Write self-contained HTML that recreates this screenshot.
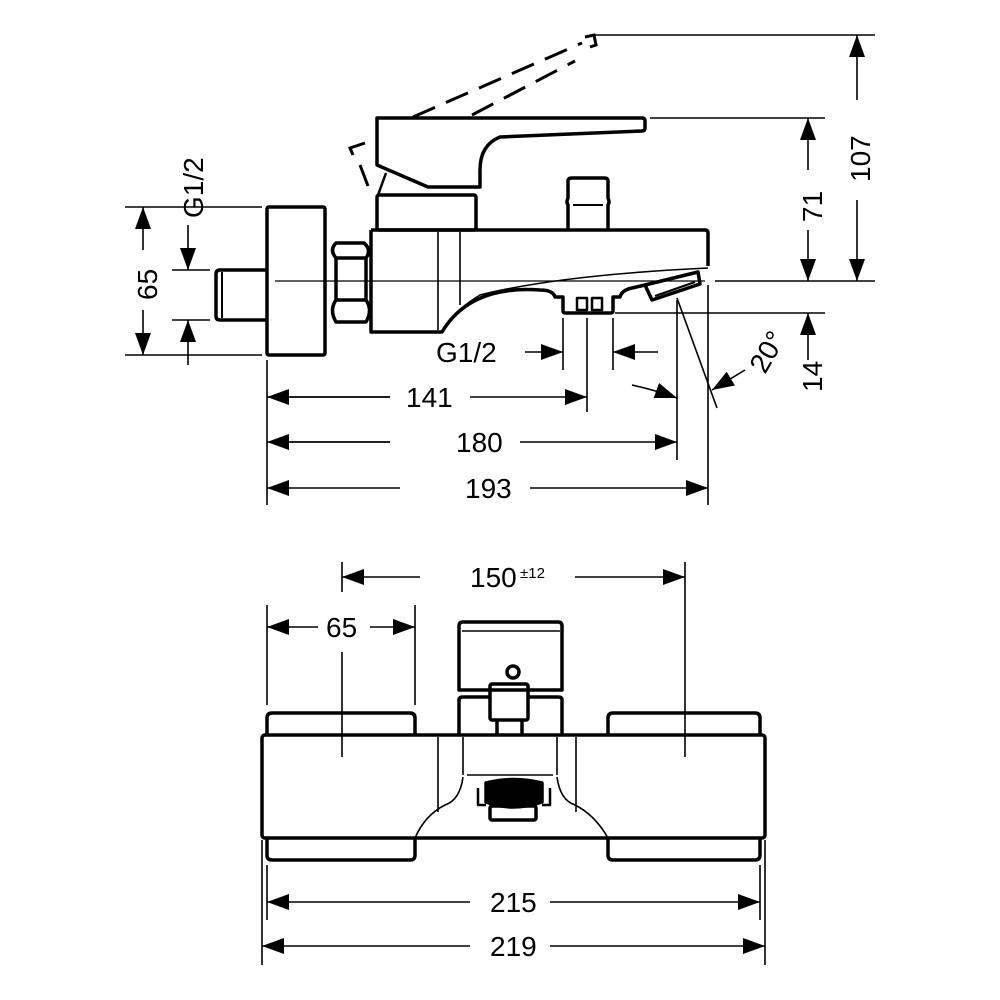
<!DOCTYPE html>
<html><head><meta charset="utf-8"><style>
html,body{margin:0;padding:0;background:#fff}
svg{display:block}
text{font-family:"Liberation Sans",sans-serif;font-size:28px;fill:#000}
</style></head><body>
<svg width="1000" height="1000" viewBox="0 0 1000 1000" xmlns="http://www.w3.org/2000/svg">
<defs>
<marker id="a" markerUnits="userSpaceOnUse" markerWidth="24" markerHeight="16" refX="22" refY="8" orient="auto">
<path d="M0,0 L22,8 L0,16 Z" fill="#000"/>
</marker>
</defs>
<g fill="none" stroke="#000" stroke-width="1.6">
<path d="M595,35H875 M650,118H825 M715,281H875 M615,313H825 M125,207H262 M125,355H262 M172,270H210 M172,320H210"/>
<path d="M267,360V505 M587,318V412 M563,318V370 M613,318V370 M677,300V460 M708,285V505"/>
<path d="M677,298L717,408"/>
<path d="M275,281H705" stroke-width="1.2"/>
<path d="M290,397H390 M470,397H587" marker-end="url(#a)"/>
<path d="M390,397H267" marker-end="url(#a)"/>
<path d="M290,442H390 M520,442H677" marker-end="url(#a)"/>
<path d="M390,442H267" marker-end="url(#a)"/>
<path d="M530,488H708" marker-end="url(#a)"/>
<path d="M400,488H267" marker-end="url(#a)"/>
<path d="M525,352H563" marker-end="url(#a)"/>
<path d="M658,352H613" marker-end="url(#a)"/>
<path d="M632,385Q655,390 677,398" marker-end="url(#a)"/>
<path d="M745,370L712,390" marker-end="url(#a)"/>
<path d="M857,100V35" marker-end="url(#a)"/>
<path d="M857,200V281" marker-end="url(#a)"/>
<path d="M808,170V118" marker-end="url(#a)"/>
<path d="M808,230V281" marker-end="url(#a)"/>
<path d="M808,360V313" marker-end="url(#a)"/>
<path d="M143,250V207" marker-end="url(#a)"/>
<path d="M143,310V355" marker-end="url(#a)"/>
<path d="M188,225V270" marker-end="url(#a)"/>
<path d="M188,365V320" marker-end="url(#a)"/>
<path d="M342,562V592 M342,652V757 M685,562V757 M267,605V705 M415,605V705 M267,865V920 M760,865V920 M262,840V965 M765,840V965"/>
<path d="M420,577H342" marker-end="url(#a)"/>
<path d="M575,577H685" marker-end="url(#a)"/>
<path d="M318,627H267" marker-end="url(#a)"/>
<path d="M370,627H415" marker-end="url(#a)"/>
<path d="M470,902H267" marker-end="url(#a)"/>
<path d="M550,902H760" marker-end="url(#a)"/>
<path d="M470,946H262" marker-end="url(#a)"/>
<path d="M550,946H765" marker-end="url(#a)"/>
</g>
<g fill="none" stroke="#000" stroke-width="3.5" stroke-linejoin="round">
<rect x="267" y="207" width="58" height="148" rx="2"/>
<path d="M267,270H220Q216,270 216,274V316Q216,320 220,320H267"/>
<path d="M222,272V318" stroke-width="2"/>
<path d="M336,243H364Q372,250 366,258H336Q329,250 336,243Z M336,258H366V300H336Z M336,300H366Q373,310 366,322H336Q329,310 336,300Z"/>
<path d="M371,230H705Q708,230 708,233V266"/>
<path d="M371,230V332H442Q470,285 540,290Q553,290 555,297H563V311Q563,313 566,313H610Q613,313 613,311V297H620Q622,290 632,288L645,285"/>
<path d="M645,285L652,300L700,284L698,272Z"/>
<path d="M655,296L695,282" stroke-width="2"/>
<rect x="577" y="298" width="10" height="12" stroke-width="2.5"/>
<rect x="592" y="298" width="10" height="12" stroke-width="2.5"/>
<rect x="377" y="195" width="99" height="35" rx="2"/>
<path d="M377,165V118H642Q645,118 645,121V128Q645,131 642,131L500,137Q480,145 480,170V187H428L377,165Z"/>
<path d="M378,195L386,173" stroke-width="2.5"/>
<path d="M568,230V205Q566,202 568,198V181Q568,178 572,178H604Q608,178 608,181V198Q610,202 608,205V230"/>
<path d="M573,205H603" stroke-width="2"/>
</g>
<g fill="none" stroke="#000" stroke-width="1.6">
<path d="M438,232V330 M460,232V305 M708,268Q560,275 480,295Q455,310 445,328"/>
</g>
<g fill="none" stroke="#000" stroke-width="3">
<path d="M413,117L582,43" stroke-dasharray="24,12"/>
<path d="M472,115L575,61" stroke-dasharray="24,12"/>
<path d="M585,37L594,35L596,45L590,47"/>
<path d="M365,143L350,148L353,155 M360,165L368,186"/>
</g>
<g fill="none" stroke="#000" stroke-width="3.5" stroke-linejoin="round">
<rect x="262" y="735" width="503" height="103" rx="3"/>
<path d="M267,735V718Q267,713 272,713H410Q415,713 415,718V735 M608,735V718Q608,713 613,713H755Q760,713 760,718V735"/>
<path d="M267,838V855Q267,860 272,860H410Q415,860 415,855V838 M608,838V855Q608,860 613,860H755Q760,860 760,855V838"/>
<path d="M459,690V626Q459,622 463,622H558Q562,622 562,626V690Z"/>
<path d="M459,735V700Q459,697 463,697H490 M528,697H558Q562,697 562,700V735"/>
<rect x="490" y="684" width="38" height="36" rx="2"/>
<path d="M497,720V735 M522,720V735"/>
<circle cx="513" cy="672" r="6"/>
<path d="M486,783Q513,776 542,783V802Q513,812 486,802Z" fill="#000"/>
<path d="M478,788V805H486 M550,788V805H542" stroke-width="2.5"/>
<rect x="490" y="806" width="46" height="14" rx="2"/>
</g>
<g fill="none" stroke="#000" stroke-width="1.6">
<path d="M462,631H560 M438,737V812 M576,737V812 M463,737V775 M557,737V775 M467,775H553 M463,777Q460,800 445,805Q425,815 415,838 M557,777Q560,800 575,805Q595,815 608,838"/>
</g>
<text x="406" y="407">141</text>
<text x="456" y="452">180</text>
<text x="465" y="498">193</text>
<text x="436" y="362">G1/2</text>
<text transform="translate(765,375) rotate(-60)">20°</text>
<text transform="translate(870,182) rotate(-90)">107</text>
<text transform="translate(822,222) rotate(-90)">71</text>
<text transform="translate(822,392) rotate(-90)">14</text>
<text transform="translate(157,300) rotate(-90)">65</text>
<text transform="translate(203,218) rotate(-90)">G1/2</text>
<text x="470" y="587">150</text>
<text x="520" y="578" style="font-size:15px">±12</text>
<text x="326" y="637">65</text>
<text x="490" y="912">215</text>
<text x="490" y="956">219</text>
</svg>
</body></html>
